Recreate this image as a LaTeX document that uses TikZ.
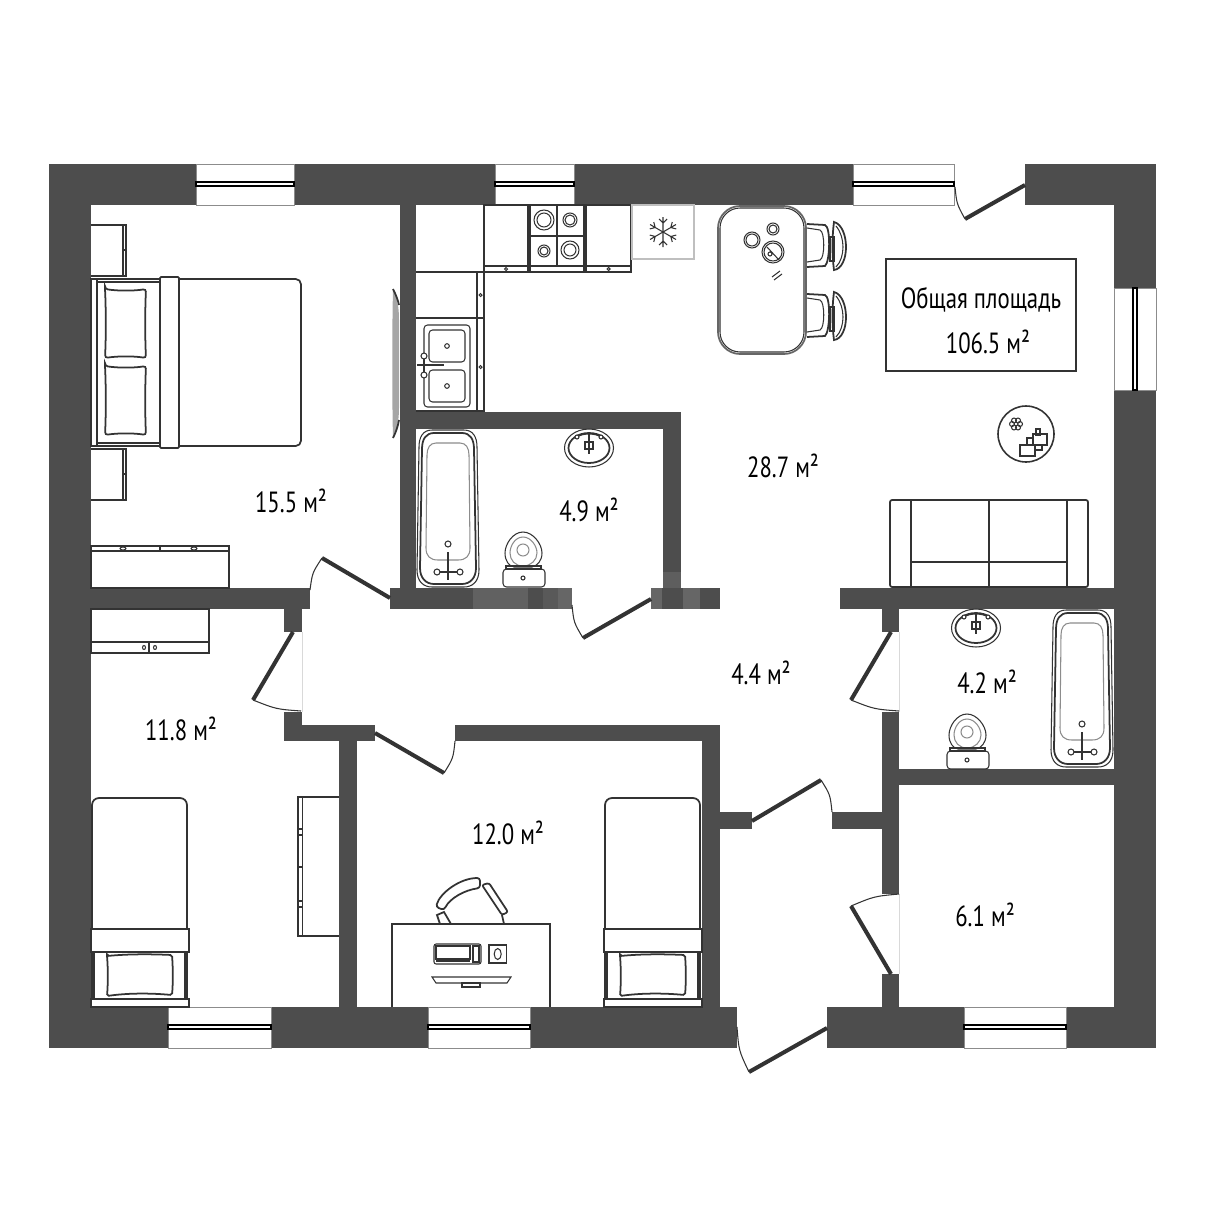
\documentclass[tikz,border=0pt]{standalone}
\usepackage{fontspec}
\usepackage{tikz}
\usetikzlibrary{calc}
\newfontfamily\planfont[FakeStretch=0.78]{PT Sans}
\definecolor{wallgrey}{HTML}{4D4D4D}
\definecolor{inkgrey}{HTML}{333333}

\begin{document}
\begin{tikzpicture}[x=0.01cm,y=-0.01cm,
        wall/.style={fill=wallgrey},
        stain/.style={fill=#1},
        leaf/.style={draw=inkgrey,line width=1.15pt},
        swing/.style={draw=inkgrey,line width=0.3pt},
        jamb/.style={draw=black!15,line width=0.25pt},
        pane/.style={draw=black!45,line width=0.25pt,fill=white},
        glass/.style={draw=black,line width=0.3pt,fill=white},
        unit/.style={draw=inkgrey,line width=0.5pt},
        fine/.style={draw=inkgrey,line width=0.3pt},
        pale/.style={draw=black!45,line width=0.3pt},
        room/.style={font=\planfont\fontsize{8.3}{10}\selectfont,text=black,inner sep=0pt}]
        \useasboundingbox (0,0) rectangle (1212,1212);

        % walls
        \foreach \xa/\ya/\xb/\yb in {49/164/196/205,294/164/495/205,574/164/853/205,1025/164/1156/205,
            1114/164/1156/288,1114/390/1156/1048,49/164/91/1048,
            49/1007/168/1048,271/1007/428/1048,530/1007/737/1048,827/1007/964/1048,1066/1007/1156/1048,
            400/205/416/588,91/588/310/609,390/588/572/609,651/588/720/609,840/588/1114/609,
            416/412/681/429,663/412/681/588,284/609/302/632,284/712/302/741,284/725/375/741,
            455/725/720/741,339/741/357/1007,702/725/720/1007,882/609/899/632,882/712/899/894,
            882/974/899/1007,899/769/1114/785,720/812/752/829,832/812/882/829}
            \fill[wall] (\xa,\ya) rectangle (\xb,\yb);
        \foreach \xa/\ya/\xb/\yb/\c in {473/588/528/609/black!62,543/588/558/609/black!65,558/588/572/609/black!60,
            651/588/662/609/black!60,683/588/700/609/black!60,663/572/681/588/black!63}
            \fill[stain=\c] (\xa,\ya) rectangle (\xb,\yb);

        % windows
        \foreach \xa/\xb/\ya/\yb/\ga/\gb in {196/294/164/205/182/186,495/574/164/205/182/186,853/954/164/205/182/186,
            168/271/1007/1048/1025/1029,428/530/1007/1048/1025/1029,964/1066/1007/1048/1025/1029}{
            \draw[pane] (\xa,\ya) rectangle (\xb,\yb);
            \draw[glass] (\xa,\ga) rectangle (\xb,\gb);
        }
        \draw[pane] (1114,288) rectangle (1156,390);
        \draw[glass] (1133,288) rectangle (1137,390);

        % doors
        \draw[jamb] (302,632) -- (302,712);
        \draw[jamb] (899,632) -- (899,712);
        \draw[jamb] (899,894) -- (899,974);
        \foreach \hx/\hy/\tx/\ty/\ex/\ey in {390/598/322/558/310/590,651/599/583/638/572/605,
            293/632/253/700/301/711,375/733/444/773/455/741,891/632/851/700/899/711,
            752/821/821/780/832/812,891/974/851/906/899/894,827/1028/749/1072/737/1027,1025/185/965/219/955/187}{
            \coordinate (hinge) at (\hx,\hy);
            \coordinate (tip) at (\tx,\ty);
            \coordinate (rest) at (\ex,\ey);
            \draw[leaf] (hinge) -- (tip);
            \draw[swing] (tip) .. controls ($(hinge)!1.05!($(tip)!0.5!(rest)$)$) .. (rest);
        }

        % bedroom
        \foreach \dy in {0,224}{
            \draw[unit] (91,225+\dy) -- (126,225+\dy) -- (126,276+\dy) -- (91,276+\dy);
            \draw[fine] (123,225+\dy) -- (123,276+\dy) (123,250+\dy) -- (126,250+\dy);
        }
        \draw[unit] (91,279) rectangle (97,446);
        \draw[unit] (97,279) rectangle (160,446);
        \draw[fine] (97,282) -- (160,282) (97,443) -- (160,443);
        \draw[unit,rounded corners=1.5pt] (179,279) -- (301,279) -- (301,446) -- (179,446);
        \draw[unit,rounded corners=0.3pt] (160,277) rectangle (179,448);
        \foreach \dy in {0,77}
            \draw[unit,rounded corners=0.8pt] (105,289+\dy) .. controls (118,291+\dy) and (134,291+\dy) .. (146,289+\dy)
                .. controls (145,310+\dy) and (145,338+\dy) .. (146,358+\dy)
                .. controls (134,356+\dy) and (118,356+\dy) .. (105,358+\dy)
                .. controls (106,338+\dy) and (106,310+\dy) .. (105,289+\dy) -- cycle;
        \fill[black!35] (393,289) .. controls (397,298) and (399,306) .. (399,320) -- (399,408)
            .. controls (399,420) and (397,430) .. (393,438) .. controls (392,400) and (392,330) .. (393,289) -- cycle;
        \draw[fine,line width=0.5pt] (393,289) .. controls (396,295) and (398,300) .. (399,305);
        \draw[fine,line width=0.5pt] (393,438) .. controls (396,432) and (398,426) .. (399,420);
        \draw[unit] (91,546) rectangle (229,588);
        \draw[fine] (91,551) -- (229,551) (160,546) -- (160,551);
        \foreach \x in {123,194}
            \draw[fine] (\x,548.5) ellipse (3 and 1.5);

        % kitchen
        \draw[unit] (416,272) -- (484,272);
        \draw[unit] (484,205) -- (484,411) -- (416,411);
        \draw[unit] (416,318) -- (484,318);
        \draw[fine] (477,272) -- (477,411);
        \foreach \xa/\xb in {484/528,586/631}{
            \draw[unit] (\xa,205) rectangle (\xb,272);
            \draw[unit] (\xa,266) -- (\xb,266);
            \draw[fine] ({(\xa+\xb)/2},269) circle (1.5);
        }
        \foreach \y in {295,367}
            \draw[fine] (480.5,\y) circle (1.5);
        \draw[unit,line width=0.7pt] (530,205) rectangle (584,272);
        \draw[unit] (557,205) -- (557,266) (530,236) -- (584,236) (530,266) -- (584,266);
        \foreach \x/\y/\ra/\rb in {544/220/10/7,570/220/7/5,544/251/6/4,570/250/9/6}{
            \draw[fine] (\x,\y) circle (\ra);
            \draw[fine] (\x,\y) circle (\rb);
        }
        \draw[draw=black!25,line width=0.3pt] (632,205) rectangle (694,259);
        \foreach \a in {30,90,...,330}
            \draw[fine,shift={(663,232)},rotate=\a] (0,0) -- (15,0) (9,0) -- (13,-4) (9,0) -- (13,4);
        \draw[fine,rounded corners=1pt] (424,325) rectangle (470,407);
        \foreach \y in {330,370}{
            \draw[fine,rounded corners=1pt] (429,\y) rectangle (465,\y+32);
            \draw[fine] (447,\y+16) circle (2.3);
        }
        \draw[fine] (417,365) -- (444,365) (424,356) -- (424,375);
        \foreach \y in {356,375}
            \draw[fine,fill=white] (424,\y) circle (3);

        % dining table
        \draw[unit,draw=black!60,rounded corners=6.3pt] (718,206) rectangle (806,354);
        \draw[fine,rounded corners=5.7pt] (720,208) rectangle (804,352);
        \foreach \dy in {0,70}{
            \draw[unit] (807,224+\dy) -- (825,225+\dy) .. controls (831,227+\dy) and (830,262+\dy) .. (825,266+\dy) -- (807,267+\dy);
            \draw[fine] (807,228+\dy) -- (820,230+\dy) .. controls (825,232+\dy) and (825,258+\dy) .. (820,260+\dy) -- (807,262+\dy);
            \draw[unit] (830,237+\dy) rectangle (834,261+\dy);
            \draw[unit] (834,222+\dy) .. controls (842,224+\dy) and (846,236+\dy) .. (846,247+\dy)
                .. controls (846,258+\dy) and (842,269+\dy) .. (834,270+\dy)
                .. controls (832,255+\dy) and (832,237+\dy) .. (834,222+\dy) -- cycle;
            \draw[fine] (836,226+\dy) .. controls (841,232+\dy) and (843,240+\dy) .. (843,247+\dy)
                .. controls (843,254+\dy) and (841,262+\dy) .. (836,267+\dy);
        }
        \draw[fine] (752,240) circle (8) (752,240) circle (6);
        \draw[fine] (773,229) circle (6) (773,229) circle (4);
        \draw[fine] (773,252) circle (11) (773,252) circle (9);
        \draw[fine] (767,247) -- (779,260) (770,254) circle (2);
        \draw[fine] (772,277) -- (780,271) (774,280) -- (782,274);

        % living area
        \draw[fine,line width=0.4pt] (886,259) rectangle (1076,371);
        \draw[fine,line width=0.45pt] (1026,434) circle (28);
        \foreach \a in {0,60,...,300}
            \draw[fine] (1016,424)+(\a:4) circle (2.5);
        \draw[fine] (1033,434) rectangle (1047,445);
        \draw[fine] (1036,429) rectangle (1040,435);
        \draw[fine] (1027,438) rectangle (1033,445);
        \draw[fine] (1035,445) rectangle (1042,450);
        \draw[fine,fill=white] (1020,445) rectangle (1035,456);
        \draw[unit,rounded corners=0.6pt] (890,500) rectangle (1088,587);
        \draw[unit] (911,500) -- (911,587) (1067,500) -- (1067,587) (989,500) -- (989,587) (911,562) -- (1067,562);

        % bathrooms
        \foreach \dx/\dy in {0/0,634/180}{
            \begin{scope}[shift={(\dx,\dy)}]
                \draw[fine] (432,430) -- (464,430) .. controls (473,430) and (477,437) .. (477,447) -- (479,570)
                    .. controls (479,582) and (472,587) .. (464,587) -- (432,587)
                    .. controls (424,587) and (417,582) .. (417,570) -- (419,447)
                    .. controls (419,437) and (423,430) .. (432,430) -- cycle;
                \draw[unit] (434,433) -- (462,433) .. controls (470,433) and (474,439) .. (474,449) -- (476,568)
                    .. controls (476,578) and (470,584) .. (462,584) -- (434,584)
                    .. controls (426,584) and (420,578) .. (420,568) -- (422,449)
                    .. controls (422,439) and (426,433) .. (434,433) -- cycle;
                \draw[pale] (436,443) -- (460,443) .. controls (466,443) and (469,448) .. (469,455) -- (470,548)
                    .. controls (470,556) and (466,560) .. (458,560) -- (438,560)
                    .. controls (430,560) and (426,556) .. (426,548) -- (427,455)
                    .. controls (427,448) and (430,443) .. (436,443) -- cycle;
                \draw[fine] (448,544) circle (3);
                \draw[fine] (448,552) -- (448,580) (435,572) -- (462,572);
                \foreach \x in {437,460}
                    \draw[fine,fill=white] (\x,572) circle (3);
            \end{scope}
        }
        \foreach \dx/\dy in {0/0,387/180}{
            \begin{scope}[shift={(\dx,\dy)}]
                \draw[fine] (589,448) ellipse (24.5 and 19);
                \draw[unit] (589,448) ellipse (20.5 and 15);
                \draw[fine] (577,437) .. controls (583,433) and (595,433) .. (601,437);
                \draw[fine] (589,432) -- (589,454) (585,442) rectangle (593,449);
                \foreach \x in {577,601}
                    \draw[fine,fill=white] (\x,437) circle (2);
            \end{scope}
        }
        \foreach \dx/\dy in {0/0,444/182}{
            \begin{scope}[shift={(\dx,\dy)}]
                \draw[fine] (523,532) .. controls (533,532) and (542,544) .. (542,553)
                    .. controls (542,561) and (537,566) .. (532,567) -- (514,567)
                    .. controls (509,566) and (505,561) .. (505,553)
                    .. controls (505,544) and (513,532) .. (523,532) -- cycle;
                \draw[pale] (523,537) .. controls (531,537) and (537,546) .. (537,553)
                    .. controls (537,560) and (531,566) .. (523,566)
                    .. controls (515,566) and (510,560) .. (510,553)
                    .. controls (510,546) and (515,537) .. (523,537) -- cycle;
                \draw[pale] (523,550) circle (6);
                \draw[unit] (506,566) rectangle (541,569);
                \draw[fine,rounded corners=1pt] (503,569) rectangle (545,587);
                \draw[fine] (523,578) circle (2);
            \end{scope}
        }

        % bedrooms below the hall
        \foreach \dx in {0,513}{
            \begin{scope}[shift={(\dx,0)}]
                \draw[unit,rounded corners=2pt] (92,929) -- (92,798) -- (187,798) -- (187,929);
                \draw[unit] (91,929) rectangle (189,952);
                \draw[unit] (92,952) -- (92,999) (187,952) -- (187,999);
                \draw[fine] (94,952) -- (94,999) (185,952) -- (185,999);
                \draw[unit] (91,999) -- (189,999);
                \draw[fine] (91,999) rectangle (189,1007);
                \draw[unit,rounded corners=0.5pt] (107,956) .. controls (128,954) and (150,954) .. (172,955)
                    .. controls (173,968) and (173,984) .. (172,995)
                    .. controls (150,993) and (128,993) .. (107,996)
                    .. controls (108,984) and (108,968) .. (107,956) -- cycle;
            \end{scope}
        }
        \draw[unit] (91,609) rectangle (209,653);
        \draw[unit] (91,642) -- (209,642);
        \draw[fine] (149,642) -- (149,653);
        \foreach \x in {144,155}
            \draw[fine] (\x,647.5) ellipse (1.5 and 2);
        \draw[unit] (339,797) -- (298,797) -- (298,936) -- (339,936);
        \draw[fine] (302.5,797) -- (302.5,936) (298,867) -- (302.5,867);
        \foreach \y in {832,904}
            \draw[fine] (298,\y-3) rectangle (302.5,\y+3);

        % desk
        \draw[unit] (392,1007) -- (392,924) -- (550,924) -- (550,1007);
        \draw[unit,rounded corners=0.8pt] (436,907) .. controls (440,893) and (460,878) .. (480,878) -- (480,888)
            .. controls (465,890) and (450,898) .. (444,910) -- cycle;
        \draw[unit,rounded corners=0.6pt] (482,885) -- (489,883) -- (508,912) -- (502,915) -- cycle;
        \draw[unit] (440,924) -- (437,915) -- (444,912) -- (451,924);
        \draw[unit] (502,915) -- (504,924);
        \draw[fine,rounded corners=0.6pt] (434,944) rectangle (481,964);
        \draw[fine] (436,946) rectangle (470,959) (473,946) rectangle (479,962) (436,961) -- (470,961);
        \draw[fine] (489,945) rectangle (506.5,963);
        \draw[fine] (497.7,954) ellipse (3.5 and 5.5);
        \draw[fine] (432,977) -- (511,977) -- (507,983) -- (436,983) -- cycle;
        \draw[fine] (462,983) rectangle (480,987);

        % labels
        \node[room] (bedroomlabel) at (291,501) {15.5 м²};
        \node[room] (bathlabel) at (589,510) {4.9 м²};
        \node[room] (kitchenlabel) at (783,466) {28.7 м²};
        \node[room] (halllabel) at (761,673) {4.4 м²};
        \node[room] (baththreelabel) at (987,682) {4.2 м²};
        \node[room] (leftlabel) at (181,729) {11.8 м²};
        \node[room] (midlabel) at (508,833) {12.0 м²};
        \node[room] (storelabel) at (985,915) {6.1 м²};
        \node[room] (totaltitle) at (981,300) {Общая площадь};
        \node[room] (totalarea) at (988,342) {106.5 м²};
    \end{tikzpicture}
\end{document}
